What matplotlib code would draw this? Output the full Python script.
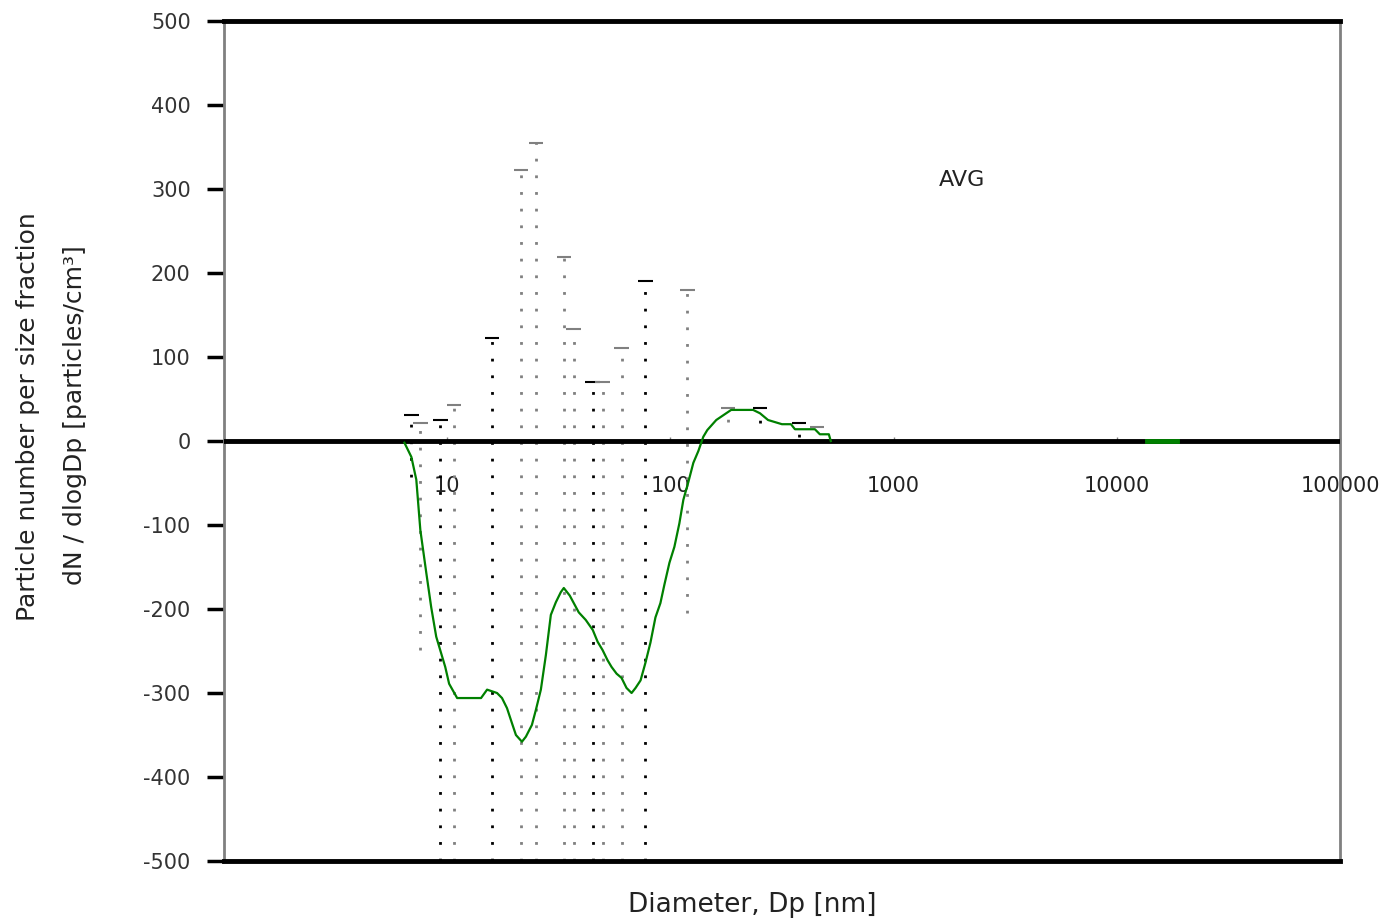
import matplotlib
matplotlib.use("Agg")
import matplotlib.pyplot as plt
from matplotlib.ticker import FixedLocator, FixedFormatter, NullLocator

# ---- data ----
diam = [6.43, 6.91, 7.27, 7.58, 8.06, 8.48, 8.93, 9.80, 10.2, 11.08, 14.18, 15.09,
        16.72, 17.6, 18.53, 19.51, 20.32, 21.62, 22.52, 23.96, 24.97, 26.28, 27.67,
        29.13, 30.67, 32.28, 33.3, 35.4, 38.85, 41.75, 44.9, 47.2, 49.7, 52.3, 54.5,
        57.4, 60.4, 63.6, 67.0, 69.8, 73.5, 77.3, 81.4, 85.7, 90.2, 94.0, 99.0,
        104.2, 109.7, 114.3, 120.3, 126.7, 133.4, 140.4, 146.3, 160.5, 177.8, 187.2,
        234.8, 252, 273.8, 316, 346.9, 361.4, 444, 467.3, 512.7, 523]
dndlog = [-2, -19, -46, -106, -157, -198, -233, -269, -289, -306, -306, -296,
          -300, -306, -318, -336, -350, -358, -352, -338, -320, -296, -255,
          -207, -192, -180, -175, -184, -204, -213, -225, -239, -249, -261, -269,
          -277, -282, -294, -300, -294, -285, -264, -240, -210, -193, -171, -145,
          -126, -98, -70, -49, -26, -12, 5, 13, 25, 33, 37,
          37, 33, 25, 20, 20, 14, 14, 8, 8, 0]
tail_diam = [13600, 18530]
tail_vals = [0, 0]

# error bars (ranges)
eb_diam = [6.91, 7.58, 9.31, 10.75, 15.88, 21.4, 24.97, 33.3, 36.9, 44.9, 49.7,
           60.4, 77.3, 119, 181.5, 252, 377, 453]
eb_high = [31, 21, 25, 43, 123, 323, 355, 219, 133, 70, 70, 111, 190, 180, 39, 39, 21, 17]
eb_low = [-43, -249, -560, -560, -560, -560, -560, -560, -560, -560, -560, -560, -560,
          -205, 23, 21, 5, -1]
eb_color = ['black', 'grey', 'black', 'grey', 'black', 'grey', 'grey', 'grey', 'grey',
            'black', 'grey', 'grey', 'black', 'grey', 'grey', 'black', 'black', 'grey']

xticks = [10, 100, 1000, 10000, 100000]
xticklabels = ['10', '100', '1000', '10000', '100000']
yticks = [-500, -400, -300, -200, -100, 0, 100, 200, 300, 400, 500]

# ---- figure ----
fig = plt.figure(figsize=(13.89, 9.22), dpi=100)
ax = fig.add_axes([224/1389, 1-861/922, (1340-224)/1389, (861-21)/922])
ax.set_xscale('log')
ax.set_xlim(1, 100000)
ax.set_ylim(-500, 500)

# error bars
ax.vlines(eb_diam, eb_low, eb_high, colors=eb_color, linewidth=2.0,
          linestyles=[(0, (1, 5))], zorder=2)
ax.scatter(eb_diam, eb_high, marker='_', s=110, c=eb_color, linewidths=1.5, zorder=2)

# zero line
ax.axhline(0, color='black', linewidth=3.5, zorder=3)

# green series
ax.plot(diam, dndlog, color='#008000', linewidth=1.6, zorder=4)
ax.plot(tail_diam, tail_vals, color='#008000', linewidth=3.5, zorder=4)

# spines
ax.spines['left'].set_color('grey')
ax.spines['left'].set_linewidth(2)
ax.spines['right'].set_color('grey')
ax.spines['right'].set_linewidth(2)
ax.spines['top'].set_color('black')
ax.spines['top'].set_linewidth(3.5)
ax.spines['bottom'].set_position(('data', 0))
ax.spines['bottom'].set_visible(False)
ax.axhline(-500, color='black', linewidth=3.5, clip_on=False, zorder=3)

ax.yaxis.set_major_locator(FixedLocator(yticks))
ax.set_yticklabels([str(v) for v in yticks])
ax.tick_params(axis='y', direction='out', length=12, width=2.5, color='black',
               labelsize=15, pad=12, labelcolor='#333333')
ax.xaxis.set_major_locator(FixedLocator(xticks))
ax.xaxis.set_major_formatter(FixedFormatter(xticklabels))
ax.xaxis.set_minor_locator(NullLocator())
ax.tick_params(axis='x', direction='in', length=3, width=1, color='grey',
               labelsize=15, pad=25, labelcolor='#222222')

ax.text(2032, 311, 'AVG', fontsize=16, ha='center', va='center', color='#222222')

fig.text(28/1389, 1-417/922, 'Particle number per size fraction', rotation=90,
         fontsize=18, ha='center', va='center', color='#222222')
fig.text(75/1389, 1-415/922, 'dN / dlogDp [particles/cm³]', rotation=90,
         fontsize=18, ha='center', va='center', color='#222222')
fig.text(752/1389, 1-905/922, 'Diameter, Dp [nm]', fontsize=19,
         ha='center', va='center', color='#222222')

fig.savefig('out.png', dpi=100)
